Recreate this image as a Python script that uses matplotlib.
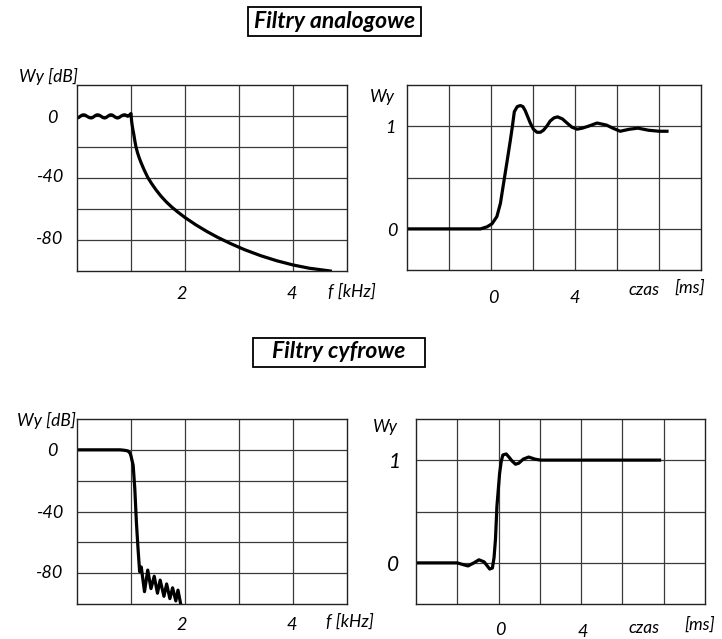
import matplotlib
matplotlib.use("Agg")
import matplotlib.pyplot as plt
from matplotlib.patches import Rectangle

plt.rcParams['font.family'] = ['Lato', 'DejaVu Sans']

# analog filter: magnitude response (f [kHz], Wy [dB])
an_f = [0.00, 0.03, 0.06, 0.09, 0.12, 0.155, 0.19, 0.225, 0.26, 0.29, 0.32, 0.35,
        0.38, 0.415, 0.45, 0.48, 0.51, 0.54, 0.57, 0.60, 0.63, 0.66, 0.69, 0.72,
        0.75, 0.78, 0.81, 0.845, 0.88, 0.91, 0.94, 0.97, 1.000, 1.005, 1.012,
        1.022, 1.035, 1.05, 1.07, 1.09, 1.12, 1.15, 1.185, 1.24, 1.31, 1.38,
        1.46, 1.55, 1.65, 1.75, 1.86, 2.00, 2.20, 2.40, 2.60, 2.85, 3.10, 3.40,
        3.70, 4.00, 4.30, 4.69]
an_db = [-1.3, -1.0, -0.2, 0.5, 0.8, 0.5, -0.3, -1.0, -1.3, -1.0, -0.2, 0.5,
         0.8, 0.5, -0.3, -1.0, -1.3, -1.0, -0.2, 0.5, 0.8, 0.5, -0.3, -1.0,
         -1.3, -1.0, -0.2, 0.5, 0.8, 0.5, -0.2, 0.6, 1.6, -1.0, -3.5,
         -6.0, -8.8, -11.5, -15.8, -19.6, -23.6, -26.8, -30, -34.5, -39.6, -43.5,
         -47.5, -51.5, -55.3, -58.6, -61.8, -65.5, -70.2, -74.4, -78.2, -82.4, -86.2, -90.1,
         -93.4, -96.1, -98.2, -100]

# analog filter: step response (t [ms], Wy)
an_t = [-4.0, -1.0, -0.5, -0.19, 0.05, 0.28, 0.45, 0.6, 0.76, 0.92, 1.02, 1.11,
        1.25, 1.4, 1.52, 1.63, 1.75, 1.87, 2.02, 2.19, 2.35, 2.5, 2.66, 2.82,
        3.0, 3.17, 3.4, 3.62, 3.85, 4.1, 4.35, 4.65, 5.05, 5.5, 5.8, 6.15,
        6.6, 7.0, 7.5, 8.0, 8.38]
an_step = [0, 0, 0.0, 0.02, 0.05, 0.12, 0.25, 0.445, 0.65, 0.86, 1.0, 1.14,
           1.19, 1.2, 1.19, 1.15, 1.09, 1.03, 0.97, 0.94, 0.94, 0.96, 1.0, 1.05,
           1.08, 1.09, 1.07, 1.03, 0.99, 0.97, 0.98, 1.0, 1.03, 1.01, 0.98, 0.95,
           0.97, 0.98, 0.96, 0.95, 0.95]

# digital filter: magnitude response
cy_f = [0.00, 0.80, 0.88, 0.94, 0.98, 1.00, 1.02, 1.04, 1.07, 1.10, 1.13, 1.16,
        1.19, 1.25, 1.31, 1.37, 1.43, 1.49, 1.54, 1.61, 1.66, 1.72, 1.77, 1.83,
        1.87, 1.92]
cy_db = [0, 0, -0.3, -0.7, -2, -4, -7, -10, -25, -47, -64, -79,
         -76, -92, -78, -90, -82, -93, -84.5, -95, -87, -96.5, -89.5, -98,
         -91, -100]

# digital filter: step response
cy_t = [-4.0, -2.0, -1.75, -1.48, -1.2, -0.95, -0.7, -0.43, -0.3, -0.22, -0.15,
        -0.08, 0.05, 0.13, 0.21, 0.37, 0.5, 0.66, 0.82, 0.98, 1.2, 1.46, 1.75,
        2.03, 7.8]
cy_step = [0, 0, -0.015, -0.03, 0.0, 0.03, 0.01, -0.06, -0.05, 0.05, 0.23,
           0.55, 0.87, 0.99, 1.05, 1.06, 1.03, 0.99, 0.96, 0.97, 1.01, 1.03, 1.01,
           1.0, 1.0]

W, H = 722, 639
fig = plt.figure(figsize=(W / 100, H / 100), dpi=100)


def box(x0, y0, x1, y1):
    return [x0 / W, 1 - y1 / H, (x1 - x0) / W, (y1 - y0) / H]


def txt(x, y, s, size=13, **kw):
    fig.text(x / W, 1 - y / H, s, fontsize=size, style='italic',
             ha='center', va='center', **kw)


def setup(ax, xlim, ylim, xt, yt):
    ax.set_xlim(*xlim)
    ax.set_ylim(*ylim)
    ax.set_xticks(xt)
    ax.set_yticks(yt)
    ax.tick_params(length=0, labelbottom=False, labelleft=False)
    ax.grid(True, color='#3a3a3a', lw=0.9)
    for s in ax.spines.values():
        s.set_linewidth(1.0)
        s.set_color('#222222')


# analog magnitude
ax1 = fig.add_axes(box(77, 85, 347, 271))
setup(ax1, (0, 5), (-100, 20), [1, 2, 3, 4], [-80, -60, -40, -20, 0])
ax1.plot(an_f, an_db, color='black', lw=2.3)

# analog step
ax2 = fig.add_axes(box(407, 85, 701, 270))
setup(ax2, (-4, 10), (-0.4, 1.4), [-2, 0, 2, 4, 6, 8], [0, 0.5, 1])
ax2.plot(an_t, an_step, color='black', lw=2.3)

# digital magnitude
ax3 = fig.add_axes(box(77, 419, 347, 604))
setup(ax3, (0, 5), (-100, 20), [1, 2, 3, 4], [-80, -60, -40, -20, 0])
ax3.plot(cy_f, cy_db, color='black', lw=2.3)

# digital step
ax4 = fig.add_axes(box(416, 419, 705, 604))
setup(ax4, (-4, 10), (-0.4, 1.4), [-2, 0, 2, 4, 6, 8], [0, 0.5, 1])
ax4.plot(cy_t, cy_step, color='black', lw=2.3)

# titles in frames
for (x, y, s, bx) in [(335, 21, 'Filtry analogowe', (248, 7, 421, 36)),
                      (339, 352, 'Filtry cyfrowe', (253, 338, 425, 367))]:
    fig.text(x / W, 1 - y / H, s, fontsize=16.5, style='italic', weight='bold',
             ha='center', va='center')
    x0, y0, x1, y1 = bx
    fig.patches.append(Rectangle((x0 / W, 1 - y1 / H), (x1 - x0) / W, (y1 - y0) / H,
                                 transform=fig.transFigure, fill=False,
                                 ec='black', lw=1.3))

# labels, top row
txt(48, 76, 'Wy [dB]', 12.5)
txt(52, 118, '0')
txt(51, 177, '-40')
txt(50, 239, '-80')
txt(182, 294, '2')
txt(292, 294, '4')
txt(352, 292, 'f [kHz]', 12.5)
txt(382, 97, 'Wy', 12.5)
txt(390, 128, '1')
txt(392, 231, '0')
txt(493, 298, '0')
txt(575, 298, '4')
txt(644, 290, 'czas', 12.5)
txt(690, 288, '[ms]', 12.5)

# labels, bottom row
txt(46, 420, 'Wy [dB]', 12.5)
txt(52, 451, '0')
txt(51, 513, '-40')
txt(50, 573, '-80')
txt(182, 625, '2')
txt(292, 625, '4')
txt(350, 622, 'f [kHz]', 12.5)
txt(385, 427, 'Wy', 12.5)
txt(395, 462, '1', 15)
txt(393, 565, '0', 15)
txt(500, 630, '0')
txt(583, 632, '4')
txt(644, 628, 'czas', 12.5)
txt(700, 625, '[ms]', 12.5)

fig.savefig('out.png', dpi=100)
